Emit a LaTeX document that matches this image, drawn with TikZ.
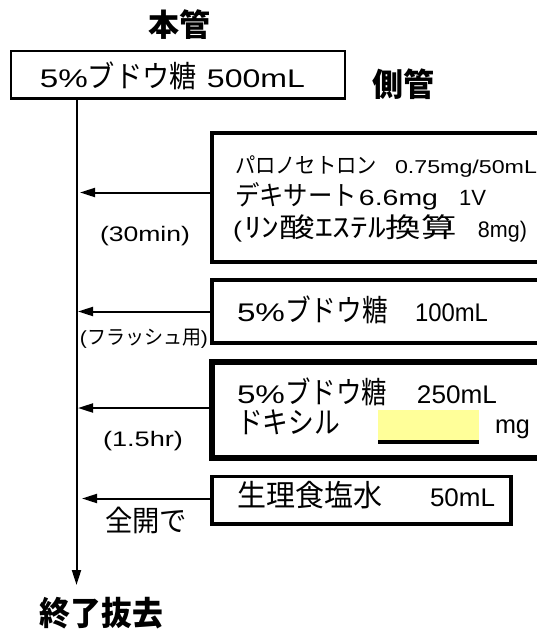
\documentclass[tikz,border=0pt]{standalone}
\usepackage{fontspec}
\usepackage{graphicx}
\usetikzlibrary{arrows.meta}
\newfontfamily\jp{Noto Sans CJK JP}
\newfontfamily\lat{Liberation Sans}
\newcommand{\seg}[3]{{\jp\fontsize{#1pt}{#1pt}\selectfont\resizebox{#2pt}{\height}{#3}}}
\newcommand{\segb}[3]{{\jp\bfseries\fontsize{#1pt}{#1pt}\selectfont\resizebox{#2pt}{\height}{#3}}}
\newcommand{\segl}[3]{{\lat\fontsize{#1pt}{#1pt}\selectfont\resizebox{#2pt}{\height}{#3}}}
\definecolor{hl}{HTML}{FFFF99}
\tikzset{
  txt/.style={inner sep=0pt, outer sep=0pt, anchor=base west},
  boxmain/.style={draw, line width=2.5pt, inner sep=0pt, outer sep=0pt, anchor=north west},
  boxside/.style={draw, line width=3.5pt, inner sep=0pt, outer sep=0pt, anchor=north west},
  boxthick/.style={draw, line width=6pt, inner sep=0pt, outer sep=0pt, anchor=north west},
  arr/.style={line width=2pt, -{Triangle[length=15pt,width=9pt]}},
}
\begin{document}
\begin{tikzpicture}[x=1pt,y=-1pt]
\useasboundingbox (0,0) rectangle (537,630);
\fill[white] (0,0) rectangle (537,630);
\clip (0,0) rectangle (537,630);
% boxes
\node[boxmain, minimum width=334pt, minimum height=47.5pt] (main) at (11,51) {};
\node[boxside, minimum width=350pt, minimum height=129pt] (box1) at (212,133) {};
\node[boxside, minimum width=350pt, minimum height=63pt] (box2) at (212,280) {};
\node[boxthick, minimum width=350pt, minimum height=96pt] (box3) at (212,362) {};
\node[boxside, minimum width=299pt, minimum height=47.5pt] (box4) at (212,476.5) {};
\node[fill=hl, inner sep=0pt, outer sep=0pt, anchor=north west, minimum width=101pt, minimum height=32pt] (blank) at (378,410) {};
\draw[line width=3.5pt] (blank.south west) -- (blank.south east);
% texts
\node[txt] (honkan) at (148,36) {\segb{31}{62}{本管}};
\node[txt] (maintxt) at (40,87) {\segl{25.5}{48}{5\%}\seg{30}{109}{ブドウ糖}\hspace{10pt}\segl{25.5}{98}{500mL}};
\node[txt] (sokan) at (372,96) {\segb{32}{62}{側管}};
\node[txt] (l1) at (235,173.3) {\seg{22}{142}{パロノセトロン}\hspace{18pt}\segl{18.6}{142}{0.75mg/50mL}};
\node[txt] (l2) at (235,205) {\seg{27}{122}{デキサート}\hspace{2pt}\segl{22}{79}{6.6mg}\hspace{21pt}\segl{22}{27}{1V}};
\node[txt] (l3) at (233,237.3) {\segl{22.5}{9}{(}\hspace{2pt}\seg{27}{213}{ﾘﾝ酸ｴｽﾃﾙ換算}\hspace{21pt}\segl{22.5}{49}{8mg)}};
\node[txt] (t30) at (100,241.7) {\segl{21}{90}{(30min)}};
\node[txt] (b2txt) at (237,321.7) {\segl{25.5}{48}{5\%}\seg{30}{103}{ブドウ糖}\hspace{27pt}\segl{25.5}{73}{100mL}};
\node[txt] (flush) at (80,344) {\segl{19}{7}{(}\seg{20}{114}{フラッシュ用}\segl{19}{7}{)}};
\node[txt] (b3txt) at (237,403.3) {\segl{25.5}{48}{5\%}\seg{30}{102}{ブドウ糖}\hspace{30pt}\segl{25.5}{80}{250mL}};
\node[txt] (doxil) at (237,433.3) {\seg{30}{103}{ドキシル}};
\node[txt] (mg) at (495,433.3) {\segl{25.5}{35}{mg}};
\node[txt] (t15) at (103,446.7) {\segl{21}{80}{(1.5hr)}};
\node[txt] (b4txt) at (237,506.5) {\seg{30}{145}{生理食塩水}\hspace{48pt}\segl{25.5}{65}{50mL}};
\node[txt] (zenkai) at (105,531) {\seg{29}{82}{全開で}};
\node[txt] (endlbl) at (40,625) {\segb{33}{123}{終了抜去}};
% connectors
\coordinate (trunk) at (76.5,585);
\coordinate (a1) at (80,192.5);
\coordinate (a2) at (78,311.5);
\coordinate (a3) at (78,408);
\coordinate (a4) at (82,498.5);
\draw[arr] (main.south -| trunk) -- (trunk);
\draw[arr] (box1.west |- a1) -- (a1);
\draw[arr] (box2.west |- a2) -- (a2);
\draw[arr] (box3.west |- a3) -- (a3);
\draw[arr] (box4.west |- a4) -- (a4);
\end{tikzpicture}
\end{document}
